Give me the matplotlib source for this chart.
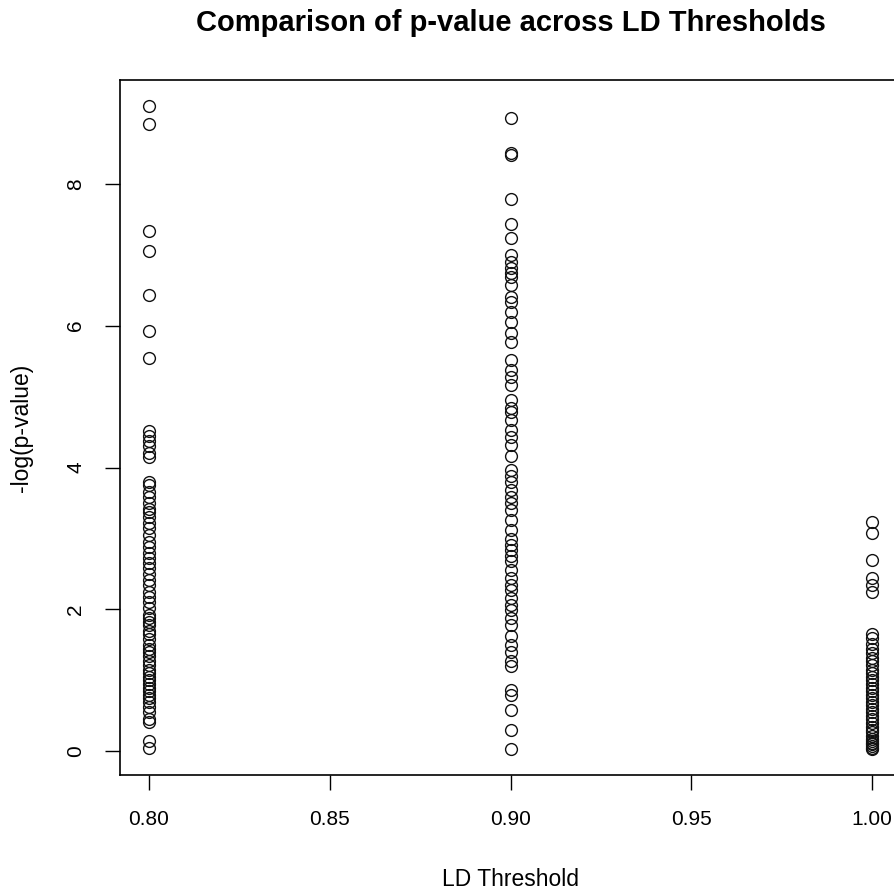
import matplotlib

matplotlib.use("Agg")
import matplotlib.pyplot as plt

# -log(p-value), one list per LD threshold
thresholds = [0.80, 0.90, 1.00]

ld_080 = [9.10, 8.84, 7.33, 7.05, 6.43, 5.92, 5.54,
          4.52, 4.45, 4.38, 4.30, 4.20, 4.15,
          3.80, 3.75, 3.65, 3.58, 3.50, 3.42, 3.38, 3.30, 3.22, 3.15,
          3.05, 2.95, 2.88, 2.80, 2.72, 2.65, 2.58, 2.50, 2.42, 2.35,
          2.25, 2.18, 2.10, 2.02, 1.92, 1.88, 1.82, 1.78, 1.70, 1.65,
          1.58, 1.50, 1.45, 1.40, 1.35, 1.28, 1.22, 1.15, 1.10, 1.05,
          1.00, 0.95, 0.90, 0.85, 0.80, 0.75, 0.70, 0.62, 0.55, 0.45,
          0.42, 0.15, 0.05]

ld_090 = [8.93, 8.44, 8.41, 7.79, 7.43, 7.24, 7.00, 6.90, 6.81, 6.74,
          6.69, 6.57, 6.40, 6.33, 6.19, 6.05, 5.90, 5.77, 5.51, 5.37,
          5.27, 5.16, 4.95, 4.84, 4.78, 4.67, 4.53, 4.43, 4.32, 4.17,
          3.96, 3.88, 3.79, 3.68, 3.58, 3.50, 3.40, 3.26, 3.12, 3.00,
          2.91, 2.84, 2.75, 2.69, 2.55, 2.44, 2.34, 2.27, 2.16, 2.06,
          1.99, 1.88, 1.78, 1.62, 1.50, 1.40, 1.28, 1.21, 0.86, 0.79,
          0.58, 0.30, 0.03]

ld_100 = [3.23, 3.08, 2.70, 2.45, 2.35, 2.25, 1.65, 1.60, 1.52, 1.45,
          1.38, 1.32, 1.28, 1.22, 1.15, 1.10, 1.05, 1.00, 0.95, 0.90,
          0.85, 0.80, 0.75, 0.70, 0.65, 0.60, 0.55, 0.50, 0.45, 0.40,
          0.35, 0.30, 0.27, 0.22, 0.18, 0.15, 0.12, 0.10, 0.08, 0.05,
          0.03]

x_ticks = [0.80, 0.85, 0.90, 0.95, 1.00]
x_tick_labels = ["0.80", "0.85", "0.90", "0.95", "1.00"]
y_ticks = [0, 2, 4, 6, 8]

plt.rcParams["font.family"] = ["Liberation Sans", "DejaVu Sans"]

fig = plt.figure(figsize=(8.95, 8.90), dpi=100)
# R-style plot region; the right edge runs past the figure as in the original
ax = fig.add_axes([120 / 895, 115 / 890, 781 / 895, 695 / 890])

for thr, vals in zip(thresholds, [ld_080, ld_090, ld_100]):
    ax.plot([thr] * len(vals), vals, linestyle="none", marker="o",
            markersize=8.5, markerfacecolor="none", markeredgecolor="#111111",
            markeredgewidth=1.0)

all_y = ld_080 + ld_090 + ld_100
ymin, ymax = min(all_y), max(all_y)
pad_y = 0.04 * (ymax - ymin)
ax.set_ylim(ymin - pad_y, ymax + pad_y)
ax.set_xlim(0.80 - 0.04 * 0.2, 1.00 + 0.04 * 0.2)

ax.set_xticks(x_ticks)
ax.set_xticklabels(x_tick_labels)
ax.set_yticks(y_ticks)
ax.set_yticklabels([str(v) for v in y_ticks], rotation=90, va="center")
ax.tick_params(direction="out", length=11, width=1, pad=14, labelsize=15)

for s in ax.spines.values():
    s.set_linewidth(1.2)

ax.set_xlabel("LD Threshold", fontsize=16.5, labelpad=28)
ax.set_ylabel("-log(p-value)", fontsize=16.5, labelpad=24)
fig.text(511 / 895, 1 - 23 / 890, "Comparison of p-value across LD Thresholds",
         ha="center", va="center", fontsize=21, fontweight="bold")

fig.savefig("out.png", dpi=100)
